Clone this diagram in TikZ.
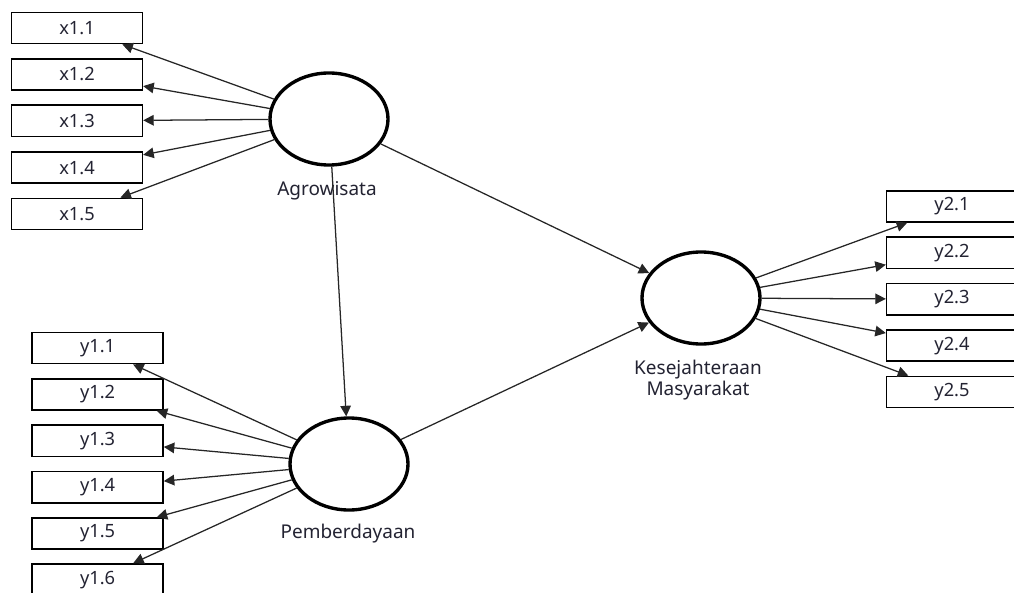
\documentclass[tikz,border=0pt]{standalone}
\usepackage{fontspec}
\setmainfont{Noto Sans}
\usepackage{xcolor}
\usepackage{tikz}
\usetikzlibrary{arrows.meta,shapes.geometric}
\definecolor{txt}{RGB}{35,35,50}

\begin{document}
\begin{tikzpicture}[>={Triangle[length=7.5pt,width=7.5pt]}, font=\fontsize{13}{15}\selectfont,
 ind/.style={draw,line width=1.1pt,minimum width=3.27cm,minimum height=0.78cm,inner sep=0pt,text=txt},
 lat/.style={draw,ellipse,line width=2.4pt,minimum width=2.95cm,minimum height=2.3cm,inner sep=0pt},
 lab/.style={font=\fontsize{13.5}{14.5}\selectfont,text=txt,align=center},
 ld/.style={->,line width=0.9pt,draw=black!85}]
\useasboundingbox (0,0) rectangle (25.35,14.8);
% latent variables
\node[lat] (agro) at (8.225,11.825) {};
\node[lab] (agrol) at (8.175,10.02) {Agrowisata};
\node[lat] (pemb) at (8.725,3.2) {};
\node[lab] (pembl) at (8.7,1.45) {Pemberdayaan};
\node[lat] (kes) at (17.525,7.35) {};
\node[lab] (kesl) at (17.45,5.3) {Kesejahteraan\\Masyarakat};
% indicators
\node[ind] (x11) at (1.925,14.10) {x1.1};
\node[ind] (x12) at (1.925,12.94) {x1.2};
\node[ind] (x13) at (1.925,11.78) {x1.3};
\node[ind] (x14) at (1.925,10.61) {x1.4};
\node[ind] (x15) at (1.925,9.45) {x1.5};
\node[ind] (y11) at (2.44,6.10) {y1.1};
\node[ind] (y12) at (2.44,4.94) {y1.2};
\node[ind] (y13) at (2.44,3.78) {y1.3};
\node[ind] (y14) at (2.44,2.62) {y1.4};
\node[ind] (y15) at (2.44,1.46) {y1.5};
\node[ind] (y16) at (2.44,0.31) {y1.6};
\node[ind] (y21) at (23.8,9.64) {y2.1};
\node[ind] (y22) at (23.8,8.48) {y2.2};
\node[ind] (y23) at (23.8,7.32) {y2.3};
\node[ind] (y24) at (23.8,6.16) {y2.4};
\node[ind] (y25) at (23.8,5.00) {y2.5};
% structural paths
\draw[ld] (agro) -- (pemb);
\draw[ld] (agro) -- (kes);
\draw[ld] (pemb) -- (kes);
% loadings
\draw[ld] (agro) -- (x11);
\draw[ld] (agro) -- (x12);
\draw[ld] (agro) -- (x13);
\draw[ld] (agro) -- (x14);
\draw[ld] (agro) -- (x15);
\draw[ld] (pemb) -- (y11);
\draw[ld] (pemb) -- (y12);
\draw[ld] (pemb) -- (y13);
\draw[ld] (pemb) -- (y14);
\draw[ld] (pemb) -- (y15);
\draw[ld] (pemb) -- (y16);
\draw[ld] (kes) -- (y21);
\draw[ld] (kes) -- (y22);
\draw[ld] (kes) -- (y23);
\draw[ld] (kes) -- (y24);
\draw[ld] (kes) -- (y25);
\end{tikzpicture}
\end{document}
